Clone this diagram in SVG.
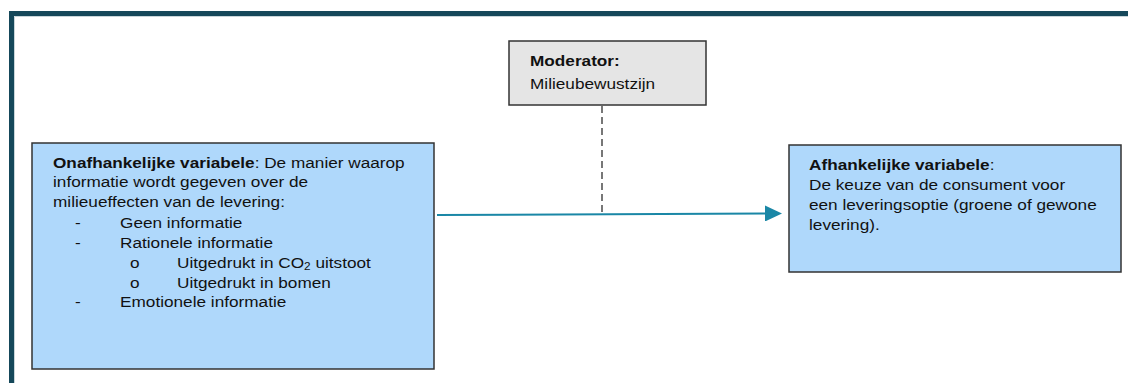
<svg xmlns="http://www.w3.org/2000/svg" width="1128" height="383" viewBox="0 0 1128 383">
<defs>
<style>
.box{fill:#afd8fb;stroke:#333;stroke-width:1.5}
.mod{fill:#e5e5e5;stroke:#333;stroke-width:1.5}
text{font-family:"Liberation Sans",Arial,sans-serif;font-size:15.3px;fill:#111}
.b{font-weight:bold}
.conn{stroke:#1a87a6;stroke-width:2;fill:none}
.dash{stroke:#777;stroke-width:2;stroke-dasharray:7 4;fill:none}
</style>
<marker id="ah" markerWidth="17" markerHeight="16" refX="0" refY="8" orient="auto" markerUnits="userSpaceOnUse">
<polygon points="0,0 17,8 0,16" fill="#1a87a6"/>
</marker>
</defs>
<rect width="1128" height="383" fill="#fff"/>
<g id="frame">
<rect x="9" y="11" width="1119" height="5" fill="#15485a"/>
<rect x="9" y="11" width="5" height="372" fill="#15485a"/>
<line x1="14.5" y1="16.5" x2="1128" y2="16.5" stroke="#c9d6da" stroke-width="1"/>
<line x1="14.5" y1="16.5" x2="14.5" y2="383" stroke="#c9d6da" stroke-width="1"/>
</g>
<g id="connectors">
<line class="dash" x1="602" y1="106" x2="602" y2="212"/>
<line class="conn" x1="437" y1="215" x2="765" y2="213.5" marker-end="url(#ah)"/>
</g>
<g id="independent">
<rect class="box" x="32" y="143" width="402" height="226"/>
<g transform="translate(53 0) scale(1.125 1)">
<text x="0" y="168"><tspan class="b">Onafhankelijke variabele</tspan>: De manier waarop</text>
<text x="0" y="187.5">informatie wordt gegeven over de</text>
<text x="0" y="207.5">milieueffecten van de levering:</text>
<text x="19.6" y="228">-</text><text x="59.6" y="228">Geen informatie</text>
<text x="19.6" y="248">-</text><text x="59.6" y="248">Rationele informatie</text>
<text x="68.4" y="268.5">o</text><text x="110.2" y="268.5">Uitgedrukt in CO<tspan font-size="10.5" dy="2">2</tspan><tspan dy="-2"> uitstoot</tspan></text>
<text x="68.4" y="288">o</text><text x="110.2" y="288">Uitgedrukt in bomen</text>
<text x="19.6" y="307.5">-</text><text x="59.6" y="307.5">Emotionele informatie</text>
</g>
</g>
<g id="moderator">
<rect class="mod" x="509" y="41" width="197" height="64"/>
<g transform="translate(530 0) scale(1.125 1)">
<text x="0" y="66" class="b">Moderator:</text>
<text x="0" y="89">Milieubewustzijn</text>
</g>
</g>
<g id="dependent">
<rect class="box" x="789" y="145" width="332" height="127"/>
<g transform="translate(809 0) scale(1.125 1)">
<text x="0" y="170"><tspan class="b">Afhankelijke variabele</tspan>:</text>
<text x="0" y="190.5">De keuze van de consument voor</text>
<text x="0" y="210.5">een leveringsoptie (groene of gewone</text>
<text x="0" y="230.5">levering).</text>
</g>
</g>
</svg>
